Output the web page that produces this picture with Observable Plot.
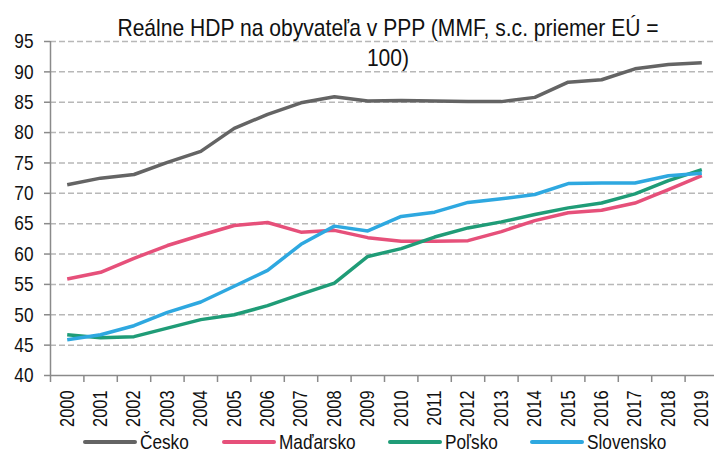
<!DOCTYPE html>
<html>
<head>
<meta charset="utf-8">
<script src="https://cdn.jsdelivr.net/npm/d3@7"></script>
<script src="https://cdn.jsdelivr.net/npm/@observablehq/plot@0.6"></script>
<style>
  html, body { margin: 0; padding: 0; background: #fff; }
  body { position: relative; width: 714px; height: 454px; overflow: hidden;
         font-family: "Liberation Sans", Arial, sans-serif; color: #111; }
  #title { position: absolute; left: 0; top: 12.7px; width: 776px; text-align: center;
           font-size: 24px; line-height: 30px; color: #111; pointer-events: none;
           transform: scaleX(0.878); transform-origin: 388px 0; white-space: nowrap; }
  #legend { position: absolute; left: 0; top: 431px; width: 714px; height: 22px; font-size: 21px; color: #111; }
  .item { position: absolute; top: 0; height: 22px; display: flex; align-items: center; white-space: nowrap; }
  .sw { width: 54px; height: 4px; border-radius: 2px; margin-right: 3px; flex: none; }
  .lab { display: inline-block; line-height: 22px; transform: scaleX(0.82); transform-origin: 0 50%; }
</style>
</head>
<body>
<div id="chart"></div>
<div id="title"></div>
<div id="legend"></div>
<script>
const years = [2000, 2001, 2002, 2003, 2004, 2005, 2006, 2007, 2008, 2009,
               2010, 2011, 2012, 2013, 2014, 2015, 2016, 2017, 2018, 2019];
const cesko     = [71.4, 72.5, 73.1, 75.1, 76.9, 80.7, 83.0, 84.9, 85.9, 85.2, 85.3, 85.2, 85.1, 85.1, 85.8, 88.3, 88.7, 90.5, 91.2, 91.5];
const madarsko  = [55.9, 57.0, 59.3, 61.4, 63.1, 64.7, 65.2, 63.6, 63.9, 62.7, 62.1, 62.1, 62.2, 63.7, 65.5, 66.8, 67.2, 68.4, 70.6, 72.9];
const polsko    = [46.7, 46.2, 46.4, 47.8, 49.2, 50.0, 51.5, 53.4, 55.2, 59.6, 60.9, 62.8, 64.3, 65.3, 66.5, 67.6, 68.4, 69.9, 72.1, 73.9];
const slovensko = [45.9, 46.7, 48.2, 50.4, 52.1, 54.7, 57.3, 61.6, 64.6, 63.8, 66.2, 66.9, 68.5, 69.1, 69.8, 71.6, 71.7, 71.7, 72.9, 73.3];
const seriesNames = ["Česko", "Maďarsko", "Poľsko", "Slovensko"];
const seriesColors = ["#646464", "#e6507a", "#1f9c77", "#2ea8e0"];
const yTicks = [40, 45, 50, 55, 60, 65, 70, 75, 80, 85, 90, 95];
const titleLines = ["Reálne HDP na obyvateľa v PPP (MMF, s.c. priemer EÚ =", "100)"];
const legendLeft = [83, 222, 388, 530];

const seriesValues = [cesko, madarsko, polsko, slovensko];
const data = [];
seriesNames.forEach((name, si) => {
  years.forEach((yr, i) => data.push({series: name, year: yr, value: seriesValues[si][i]}));
});
const boundaries = years.map(y => y - 0.5).concat([years[years.length - 1] + 0.5]);
const xDomain = [boundaries[0], boundaries[boundaries.length - 1]];

const font = '"Liberation Sans", Arial, sans-serif';

const chart = Plot.plot({
  width: 714,
  height: 428,
  marginTop: 41,
  marginBottom: 53,
  marginLeft: 50,
  marginRight: 0,
  style: {fontFamily: font, color: "#111", background: "#fff"},
  x: {type: "linear", domain: xDomain, range: [50, 718]},
  y: {domain: [40, 95]},
  color: {domain: seriesNames, range: seriesColors},
  marks: [
    Plot.gridY(yTicks.filter(t => t > 40), {stroke: "#b8b8b8", strokeOpacity: 1, strokeWidth: 1.5, strokeDasharray: "6,3"}),
    Plot.axisY(yTicks, {tickSize: 6, tickPadding: 11, fontSize: 21, stroke: "#8a8a8a", strokeWidth: 1.5, fill: "#111", label: null}),
    Plot.axisX(years, {tickSize: 0, tickPadding: 15, tickRotate: -90, fontSize: 20, fill: "#111", tickFormat: d => String(d), label: null}),
    Plot.axisX(boundaries, {tickSize: 7, tickFormat: () => "", stroke: "#8a8a8a", strokeWidth: 1.5, label: null}),
    Plot.ruleY([40], {stroke: "#8a8a8a", strokeWidth: 1.5}),
    Plot.ruleX([xDomain[0]], {stroke: "#8a8a8a", strokeWidth: 1.5}),
    Plot.line(data, {x: "year", y: "value", z: "series", stroke: "series", strokeWidth: 3.5, strokeLinejoin: "round", strokeLinecap: "butt"})
  ]
});

// condense SVG texts horizontally (Arial Narrow look)
chart.querySelectorAll("text").forEach(t => {
  const x = parseFloat(t.getAttribute("x") || "0");
  const tr = t.getAttribute("transform") || "";
  t.setAttribute("transform", `${tr} translate(${x},0) scale(0.82,1) translate(${-x},0)`);
});
document.getElementById("chart").appendChild(chart);

document.getElementById("title").innerHTML = titleLines.join("<br>");

const legend = document.getElementById("legend");
seriesNames.forEach((name, i) => {
  const item = document.createElement("div");
  item.className = "item";
  item.style.left = legendLeft[i] + "px";
  const sw = document.createElement("div");
  sw.className = "sw";
  sw.style.background = seriesColors[i];
  const lab = document.createElement("span");
  lab.className = "lab";
  lab.textContent = name;
  item.appendChild(sw);
  item.appendChild(lab);
  legend.appendChild(item);
});
</script>
</body>
</html>
